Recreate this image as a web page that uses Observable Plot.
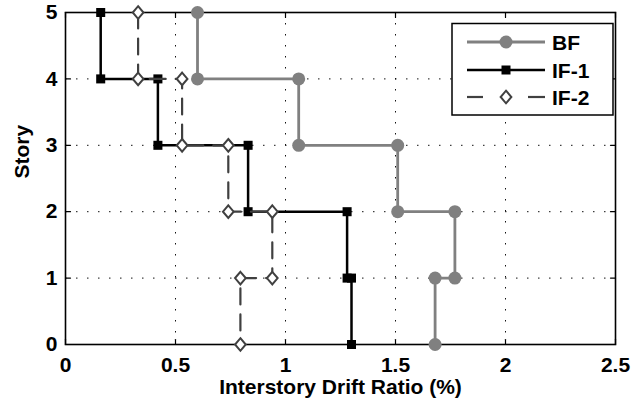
<!DOCTYPE html>
<html><head><meta charset="utf-8">
<script src="https://cdn.jsdelivr.net/npm/d3@7"></script>
<script src="https://cdn.jsdelivr.net/npm/@observablehq/plot@0.6"></script>
<style>body{margin:0;background:#fff;font-family:"Liberation Sans",Arial,sans-serif}</style>
</head><body><div id="chart"></div>
<script>
// ---- data ----
const stories = [1, 2, 3, 4, 5];
const bfDrift  = [1.68, 1.77, 1.51, 1.06, 0.60];
const if1Drift = [1.30, 1.28, 0.83, 0.42, 0.16];
const if2Drift = [0.795, 0.94, 0.74, 0.53, 0.33];
const seriesNames = ["BF", "IF-1", "IF-2"];
const xTicks = [0, 0.5, 1, 1.5, 2, 2.5];
const yTicks = [0, 1, 2, 3, 4, 5];
const xLabel = "Interstory Drift Ratio (%)";
const yLabel = "Story";

// step profile: each story's drift spans from floor (story-1) to floor story
function profile(name, drifts) {
  const pts = [];
  for (let i = stories.length - 1; i >= 0; i--) {
    pts.push({series: name, drift: drifts[i], level: stories[i]});
    pts.push({series: name, drift: drifts[i], level: stories[i] - 1});
  }
  return pts;
}
const bf = profile(seriesNames[0], bfDrift);
const if1 = profile(seriesNames[1], if1Drift);
const if2 = profile(seriesNames[2], if2Drift);

const colors = {BF: "#808080", "IF-1": "#000000", "IF-2": "#404040"};
const font = '"Liberation Sans", Arial, sans-serif';

const tickShape = {draw(ctx, l) { ctx.moveTo(0, 0); ctx.lineTo(0, -l); }};
const diamondSym = {draw(ctx, size) {
  const r = Math.sqrt(size / Math.PI); const w = r * 0.85;
  ctx.moveTo(0, -r); ctx.lineTo(w, 0); ctx.lineTo(0, r); ctx.lineTo(-w, 0); ctx.closePath();
}};
const squareSym = {draw(ctx, size) {
  const h = Math.sqrt(size / Math.PI) * 0.886;
  ctx.rect(-h, -h, 2 * h, 2 * h);
}};

const inner = [0.5, 1, 1.5, 2];
const innerY = [1, 2, 3, 4];

const plot = Plot.plot({
  width: 633, height: 408,
  marginLeft: 65, marginRight: 18, marginTop: 12, marginBottom: 64,
  style: {fontFamily: font, background: "#fff", color: "#000"},
  x: {domain: [0, 2.5], label: null, axis: null},
  y: {domain: [0, 5], label: null, axis: null},
  marks: [
    Plot.gridX(inner, {stroke: "#111", strokeOpacity: 1, strokeWidth: 1, strokeDasharray: "1.5,9.5"}),
    Plot.gridY(innerY, {stroke: "#111", strokeOpacity: 1, strokeWidth: 1, strokeDasharray: "1.5,9.5"}),
    Plot.vector(xTicks, {x: d => d, y: 0, length: 5, rotate: 0, anchor: "start", shape: tickShape, stroke: "#000", strokeWidth: 1.2}),
    Plot.vector(xTicks, {x: d => d, y: 5, length: 5, rotate: 180, anchor: "start", shape: tickShape, stroke: "#000", strokeWidth: 1.2}),
    Plot.vector(yTicks, {x: 0, y: d => d, length: 5, rotate: 90, anchor: "start", shape: tickShape, stroke: "#000", strokeWidth: 1.2}),
    Plot.vector(yTicks, {x: 2.5, y: d => d, length: 5, rotate: -90, anchor: "start", shape: tickShape, stroke: "#000", strokeWidth: 1.2}),
    Plot.frame({stroke: "#000", strokeWidth: 1.6}),
    // tick labels
    Plot.text(xTicks, {x: d => d, y: 0, text: d => String(d), dy: 13, lineAnchor: "top", fontSize: 21, fontWeight: "bold", fill: "#000"}),
    Plot.text(yTicks, {x: 0, y: d => d, text: d => String(d), dx: -8, textAnchor: "end", lineAnchor: "middle", fontSize: 21, fontWeight: "bold", fill: "#000"}),
    // axis titles
    Plot.text([xLabel], {frameAnchor: "bottom", text: d => d, dy: 49, lineAnchor: "bottom", fontSize: 21, fontWeight: "bold", fill: "#000"}),
    Plot.text([yLabel], {frameAnchor: "left", text: d => d, dx: -37, rotate: -90, lineAnchor: "bottom", fontSize: 21, fontWeight: "bold", fill: "#000"}),
    // BF
    Plot.line(bf, {x: "drift", y: "level", stroke: colors.BF, strokeWidth: 2.8}),
    Plot.dot(bf, {x: "drift", y: "level", r: 6.5, fill: colors.BF, stroke: "none", symbol: "circle"}),
    // IF-1
    Plot.line(if1, {x: "drift", y: "level", stroke: colors["IF-1"], strokeWidth: 2.5}),
    Plot.dot(if1, {x: "drift", y: "level", r: 5.1, fill: colors["IF-1"], stroke: "none", symbol: squareSym}),
    // IF-2
    Plot.line(if2, {x: "drift", y: "level", stroke: colors["IF-2"], strokeWidth: 2.2, strokeDasharray: "16,10"}),
    Plot.dot(if2, {x: "drift", y: "level", r: 6.3, fill: "#fff", stroke: colors["IF-2"], strokeWidth: 2, symbol: diamondSym})
  ]
});
document.getElementById("chart").appendChild(plot);

const svg = d3.select(plot);

// ---- legend ----
const lg = svg.append("g").attr("class", "legend");
lg.append("rect").attr("x", 452).attr("y", 23.5).attr("width", 161).attr("height", 91.5)
  .attr("fill", "#fff").attr("stroke", "#000").attr("stroke-width", 1.5);
const rows = [42, 70, 97];
seriesNames.forEach((name, i) => {
  const y = rows[i];
  const g = lg.append("g");
  if (name === "IF-2") {
    g.append("line").attr("x1", 467).attr("x2", 483).attr("y1", y).attr("y2", y).attr("stroke", colors[name]).attr("stroke-width", 2.2);
    g.append("line").attr("x1", 528).attr("x2", 545).attr("y1", y).attr("y2", y).attr("stroke", colors[name]).attr("stroke-width", 2.2);
    g.append("path").attr("d", d3.symbol(diamondSym, Math.PI * 6.3 * 6.3)()).attr("transform", `translate(506,${y})`)
      .attr("fill", "#fff").attr("stroke", colors[name]).attr("stroke-width", 2);
  } else {
    g.append("line").attr("x1", 467).attr("x2", 545).attr("y1", y).attr("y2", y).attr("stroke", colors[name]).attr("stroke-width", name === "BF" ? 2.8 : 2.5);
    if (name === "BF") g.append("circle").attr("cx", 506).attr("cy", y).attr("r", 6.5).attr("fill", colors[name]);
    else g.append("rect").attr("x", 501.5).attr("y", y - 4.5).attr("width", 9).attr("height", 9).attr("fill", colors[name]);
  }
  g.append("text").attr("x", 552).attr("y", y).attr("dy", "0.36em")
    .style("font-size", "21px").style("font-weight", "bold").style("text-anchor", "start")
    .style("font-family", font).attr("fill", "#000").text(name);
});
</script>
</body></html>
